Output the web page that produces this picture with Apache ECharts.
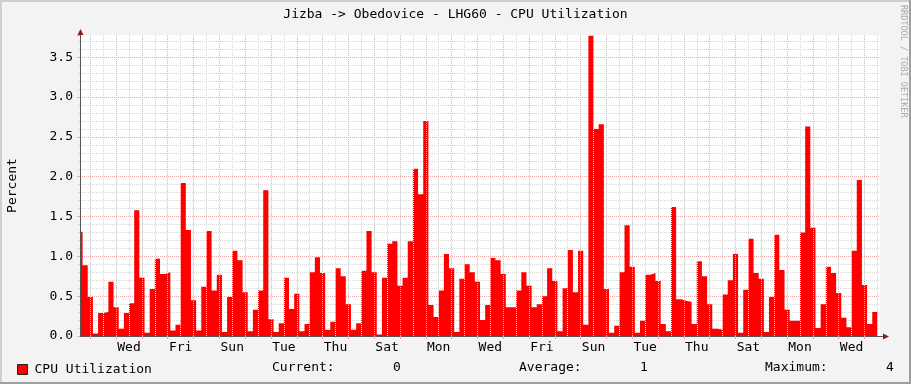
<!DOCTYPE html>
<html><head><meta charset="utf-8">
<script src="https://cdn.jsdelivr.net/npm/echarts@6/dist/echarts.min.js"></script>
<style>html,body{margin:0;padding:0;background:#f3f3f3}#c{width:911px;height:384px}</style>
</head><body><div id="c"></div>
<script>
const chartTitle = 'Jizba -> Obedovice - LHG60 - CPU Utilization';
const seriesName = 'CPU Utilization';
const yAxisName = 'Percent';
const watermark = 'RRDTOOL / TOBI OETIKER';

// CPU utilization (percent), one value per 4.8 h sample, oldest first
const cpu = [
  1.31, 0.89, 0.49, 0.03, 0.29, 0.30, 0.68, 0.36, 0.09, 0.29, 0.41, 1.58, 0.73, 0.04, 0.59, 0.97, 0.78, 0.80, 0.07, 0.14, 1.92, 1.33, 0.45, 0.07, 0.62, 1.32, 0.57,
  0.77, 0.05, 0.49, 1.07, 0.95, 0.55, 0.06, 0.33, 0.57, 1.83, 0.21, 0.05, 0.16, 0.73, 0.34, 0.53, 0.06, 0.15, 0.80, 0.99, 0.79, 0.08, 0.18, 0.85, 0.75, 0.40,
  0.08, 0.16, 0.82, 1.32, 0.80, 0.02, 0.73, 1.16, 1.19, 0.63, 0.73, 1.19, 2.10, 1.78, 2.70, 0.39, 0.24, 0.57, 1.03, 0.85, 0.05, 0.72, 0.90, 0.80, 0.68, 0.20, 0.39,
  0.98, 0.95, 0.78, 0.36, 0.36, 0.57, 0.80, 0.63, 0.36, 0.40, 0.50, 0.85, 0.69, 0.06, 0.60, 1.08, 0.55, 1.07, 0.14, 3.77, 2.60, 2.66, 0.59, 0.04, 0.13, 0.80,
  1.39, 0.87, 0.04, 0.19, 0.77, 0.79, 0.69, 0.15, 0.06, 1.62, 0.46, 0.44, 0.43, 0.15, 0.94, 0.75, 0.40, 0.09, 0.08, 0.52, 0.70, 1.03, 0.04, 0.58, 1.22, 0.79,
  0.72, 0.05, 0.49, 1.27, 0.83, 0.33, 0.19, 0.19, 1.30, 2.63, 1.36, 0.10, 0.40, 0.87, 0.79, 0.54, 0.23, 0.11, 1.07, 1.96, 0.64, 0.15, 0.30
];
// time base (hours from left edge of the graph)
const sampleStartHour = -2.4;
const sampleStepHours = 4.8;
const spanHours = 744;
const firstMidnightHour = 9.6;
const dayLabels = ['Wed','Fri','Sun','Tue','Thu','Sat','Mon','Wed','Fri','Sun','Tue','Thu','Sat','Mon','Wed'];
const firstLabelHour = 45.6;
const labelStepHours = 48;
const yMax = 3.78;
const yStep = 0.5;
const statLabels = ['Current:', 'Average:', 'Maximum:'];
const statValues = ['0', '1', '4'];

const FONT = '"DejaVu Sans Mono", monospace';
const r2 = v => Math.round(v * 1000) / 1000;

const pts = cpu.map((v, i) => [r2(sampleStartHour + i * sampleStepHours), v]);
pts.push([r2(sampleStartHour + cpu.length * sampleStepHours), cpu[cpu.length - 1]]);

const midnights = [], noons = [];
for (let t = firstMidnightHour; t < spanHours; t += 24) midnights.push(r2(t));
for (let t = firstMidnightHour + 12; t < spanHours; t += 24) noons.push(r2(t));
const labelHours = dayLabels.map((d, i) => r2(firstLabelHour + i * labelStepHours));

const MGRID = '#f0a9a9';
const GRID = '#d6d6d6';
const AXIS = '#555555';
const ARROW = '#8a1c1c';

const gridMarks = [].concat(
  noons.map(t => ({ xAxis: t, lineStyle: { color: GRID, type: [1, 1], width: 1 } })),
  midnights.map(t => ({ xAxis: t, lineStyle: { color: MGRID, type: [1, 1], width: 1 } }))
);

const chart = echarts.init(document.getElementById('c'), null, { renderer: 'canvas' });
chart.setOption({
  animation: false,
  backgroundColor: '#f3f3f3',
  title: {
    text: chartTitle, left: 'center', top: 3,
    textStyle: { fontFamily: FONT, fontSize: 13, fontWeight: 'normal', color: '#000' }
  },
  legend: {
    data: [{ name: seriesName, icon: 'rect' }],
    left: 17, top: 363, padding: 0, itemWidth: 10, itemHeight: 10, selectedMode: false,
    itemStyle: { borderColor: '#222', borderWidth: 1 },
    textStyle: { fontFamily: FONT, fontSize: 13, color: '#000', padding: [0, 0, 0, 2] }
  },
  grid: { left: 80, top: 35, width: 800, height: 301, show: true, backgroundColor: '#fff', borderWidth: 0,
          containLabel: false, outerBoundsMode: 'none' },
  xAxis: [{
    type: 'value', min: 0, max: spanHours,
    axisLine: { show: false }, axisTick: { show: false }, splitLine: { show: false },
    axisLabel: {
      customValues: labelHours, margin: 5,
      fontFamily: FONT, fontSize: 13, color: '#000',
      formatter: v => { const i = labelHours.findIndex(h => Math.abs(h - v) < 1e-6); return i >= 0 ? dayLabels[i] : ''; }
    }
  }, {
    type: 'value', min: 0, max: spanHours, position: 'bottom', z: 10,
    axisLine: { show: true, lineStyle: { color: AXIS, width: 1 } },
    axisTick: { show: true, customValues: midnights, length: 3, lineStyle: { color: MGRID } },
    axisLabel: { show: false }, splitLine: { show: false }
  }],
  yAxis: [{
    type: 'value', min: 0, max: yMax, interval: yStep,
    name: yAxisName, nameLocation: 'middle', nameRotate: 90, nameGap: 61,
    nameTextStyle: { fontFamily: FONT, fontSize: 13, color: '#000' },
    axisLine: { show: false }, axisTick: { show: false },
    axisLabel: {
      margin: 7, fontFamily: FONT, fontSize: 13, color: '#000', showMaxLabel: false,
      formatter: v => (Math.abs(v / yStep - Math.round(v / yStep)) < 1e-6 ? v.toFixed(1) : '')
    },
    splitLine: { show: true, showMaxLine: false, lineStyle: { color: MGRID, type: [1, 1] } },
    minorTick: { show: false, splitNumber: 5 },
    minorSplitLine: { show: true, lineStyle: { color: GRID, type: [1, 1] } }
  }, {
    type: 'value', min: 0, max: yMax, interval: yStep, position: 'left', z: 10,
    axisLine: { show: true, lineStyle: { color: AXIS, width: 1 } },
    axisTick: { show: true, length: 3, lineStyle: { color: MGRID } },
    minorTick: { show: true, splitNumber: 5, length: 2, lineStyle: { color: GRID } },
    axisLabel: { show: false }, splitLine: { show: false }
  }],
  series: [{
    type: 'line', xAxisIndex: 0, yAxisIndex: 0, data: [], z: 1, silent: true,
    markLine: { silent: true, symbol: ['none', 'none'], label: { show: false }, animation: false, data: gridMarks }
  }, {
    name: seriesName, type: 'line', step: 'end', xAxisIndex: 0, yAxisIndex: 0, z: 3,
    data: pts, symbol: 'none', showSymbol: false,
    lineStyle: { width: 0, color: '#ff0000' },
    itemStyle: { color: '#ff0000' },
    areaStyle: { color: '#ff0000', opacity: 1 }
  }],
  graphic: [
    { type: 'rect', shape: { x: 0, y: 0, width: 911, height: 2 }, style: { fill: '#cfcfcf' }, silent: true },
    { type: 'rect', shape: { x: 0, y: 0, width: 2, height: 384 }, style: { fill: '#cfcfcf' }, silent: true },
    { type: 'rect', shape: { x: 0, y: 382, width: 911, height: 2 }, style: { fill: '#9e9e9e' }, silent: true },
    { type: 'rect', shape: { x: 909, y: 0, width: 2, height: 384 }, style: { fill: '#9e9e9e' }, silent: true },
    { type: 'polygon', shape: { points: [[80.5, 29], [77.5, 35], [83.5, 35]] }, style: { fill: ARROW }, silent: true, z: 20 },
    { type: 'line', shape: { x1: 880, y1: 336.5, x2: 884, y2: 336.5 }, style: { stroke: AXIS, lineWidth: 1 }, silent: true, z: 20 },
    { type: 'polygon', shape: { points: [[889, 336.5], [883, 333.5], [883, 339.5]] }, style: { fill: ARROW }, silent: true, z: 20 },
    { type: 'text', x: 903, y: 5, rotation: -Math.PI / 2, silent: true,
      style: { text: watermark, font: '8.5px ' + FONT, fill: '#aaaaaa', align: 'left', verticalAlign: 'middle' } },
    { type: 'text', x: 272, y: 368, silent: true, style: { text: statLabels[0], font: '13px ' + FONT, fill: '#000', verticalAlign: 'middle' } },
    { type: 'text', x: 393, y: 368, silent: true, style: { text: statValues[0], font: '13px ' + FONT, fill: '#000', verticalAlign: 'middle' } },
    { type: 'text', x: 519, y: 368, silent: true, style: { text: statLabels[1], font: '13px ' + FONT, fill: '#000', verticalAlign: 'middle' } },
    { type: 'text', x: 640, y: 368, silent: true, style: { text: statValues[1], font: '13px ' + FONT, fill: '#000', verticalAlign: 'middle' } },
    { type: 'text', x: 765, y: 368, silent: true, style: { text: statLabels[2], font: '13px ' + FONT, fill: '#000', verticalAlign: 'middle' } },
    { type: 'text', x: 886, y: 368, silent: true, style: { text: statValues[2], font: '13px ' + FONT, fill: '#000', verticalAlign: 'middle' } }
  ]
});
</script></body></html>
